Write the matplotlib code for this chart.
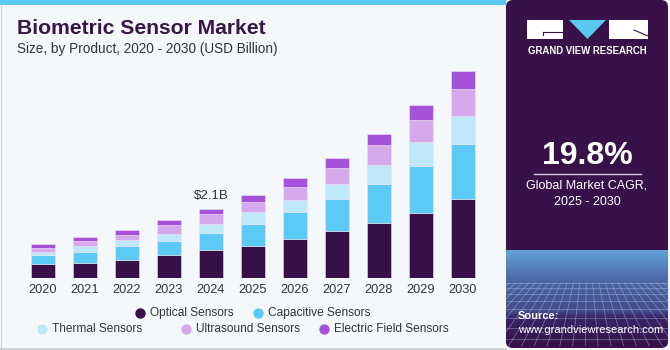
import numpy as np
import matplotlib
matplotlib.use("Agg")
import matplotlib.pyplot as plt
from matplotlib.patches import Rectangle, Polygon, FancyBboxPatch

plt.rcParams['font.family'] = ['Liberation Sans', 'DejaVu Sans']

years = ["2020", "2021", "2022", "2023", "2024", "2025", "2026", "2027", "2028", "2029", "2030"]
optical = [0.42, 0.46, 0.55, 0.69, 0.84, 0.98, 1.18, 1.42, 1.66, 1.99, 2.39]
capacitive = [0.27, 0.33, 0.43, 0.44, 0.54, 0.67, 0.83, 0.97, 1.21, 1.42, 1.69]
thermal = [0.10, 0.19, 0.19, 0.22, 0.27, 0.35, 0.36, 0.47, 0.56, 0.73, 0.84]
ultrasound = [0.13, 0.14, 0.14, 0.26, 0.29, 0.32, 0.40, 0.48, 0.61, 0.67, 0.83]
electric = [0.11, 0.12, 0.15, 0.14, 0.16, 0.20, 0.27, 0.30, 0.34, 0.46, 0.55]
series_names = ["Optical Sensors", "Capacitive Sensors", "Thermal Sensors",
                "Ultrasound Sensors", "Electric Field Sensors"]
annot_year = "2024"
annot_text = "$2.1B"
cagr = "19.8%"

colors = ["#371049", "#5bcaf6", "#bfe9fa", "#d5a9ec", "#a651d9"]
bg = "#f4f8fb"
W, H = 670, 350

fig = plt.figure(figsize=(W / 100, H / 100), dpi=100)
fig.patch.set_facecolor(bg)

ov = fig.add_axes([0, 0, 1, 1], zorder=0)
ov.set_xlim(0, W)
ov.set_ylim(H, 0)
ov.axis("off")
ov.set_facecolor(bg)

# left frame
ov.add_patch(Rectangle((0, 0), 506, 5, color="#5bc8f0", lw=0))
ov.plot([0.5, 0.5], [5, 349], color="#cfd4d8", lw=0.8)
ov.plot([0, 506], [348.5, 348.5], color="#c8cdd2", lw=1.2)

# right panel
panel = FancyBboxPatch((506, 0), 162, 348, boxstyle="round,pad=0,rounding_size=7",
                       fc="#371148", ec="none")
ov.add_patch(panel)
grad = np.linspace(0, 1, 200)[:, None]
cmap = matplotlib.colors.LinearSegmentedColormap.from_list(
    "g", [(0, "#371148"), (0.3, "#3a2466"), (0.36, "#454a8a"), (0.7, "#4d6aa8"), (1, "#62a3d8")])
im = ov.imshow(grad, extent=(506, 668, 250, 346), cmap=cmap, aspect="auto", zorder=1,
               origin="upper")
im.set_clip_path(panel)
# faint grid texture
for k in range(-6, 26):
    xs = 506 + k * 8
    ln, = ov.plot([587 + (xs - 587) * 0.8, 587 + (xs - 587) * 1.6], [283, 346], color="#b5d0f2",
                  lw=0.5, alpha=0.5, zorder=2)
    ln.set_clip_path(Rectangle((506, 0), 162, 346, transform=ov.transData))
for yy in [283, 288, 294, 301, 309, 318, 328, 339]:
    ov.plot([506, 668], [yy, yy], color="#b5d0f2", lw=0.5, alpha=0.5, zorder=2)
ov.set_xlim(0, W)

# logo
ov.add_patch(Rectangle((527, 20), 36, 19, color="white", lw=0, zorder=3))
ov.plot([543, 563], [32, 32], color="#371148", lw=0.8, zorder=4)
ov.plot([543, 543], [32, 35], color="#371148", lw=0.8, zorder=4)
ov.add_patch(Polygon([(569, 20), (606, 20), (587.5, 39)], closed=True, color="#5bc8f0", lw=0, zorder=3))
ov.add_patch(Rectangle((609, 20), 39, 19, color="white", lw=0, zorder=3))
ov.plot([634, 648], [30, 36], color="#371148", lw=0.8, zorder=4)
ov.text(587, 51, "GRAND VIEW RESEARCH", color="white", fontsize=6.9, fontweight="bold",
        ha="center", va="center", zorder=4)

ov.text(587, 156, cagr, color="white", fontsize=23, fontweight="bold", ha="center", va="center", zorder=4)
ov.plot([534, 641], [173.5, 173.5], color="#d8d0e0", lw=1, zorder=4)
ov.text(587, 186, "Global Market CAGR,", color="white", fontsize=9, ha="center", va="center", zorder=4)
ov.text(587, 202, "2025 - 2030", color="white", fontsize=9, ha="center", va="center", zorder=4)
ov.text(518, 316, "Source:", color="white", fontsize=8, fontweight="bold", ha="left", va="center", zorder=4)
ov.text(518, 330, "www.grandviewresearch.com", color="white", fontsize=8, ha="left", va="center", zorder=4)

# titles
ov.text(17, 29, "Biometric Sensor Market", color="#3a1648", fontsize=15.2, fontweight="bold",
        ha="left", va="center")
ov.text(17, 49, "Size, by Product, 2020 - 2030 (USD Billion)", color="#333333", fontsize=9.85,
        ha="left", va="center")

# legend (manual)
leg_pos = [(140, 313), (258, 313), (42, 329), (186, 329), (324, 329)]
for name, col, (lx, ly) in zip(series_names, colors, leg_pos):
    ov.scatter([lx], [ly], s=42, color=col, zorder=3)
    ov.text(lx + 10, ly, name, color="#333333", fontsize=8.6, ha="left", va="center")

# chart axes
base_px, top_px = 278, 60
left_px, right_px = 22, 484
ax = fig.add_axes([left_px / W, 1 - base_px / H, (right_px - left_px) / W, (base_px - top_px) / H],
                  zorder=1)
ax.patch.set_alpha(0)
x = np.arange(len(years))
bottom = np.zeros(len(years))
for vals, col in zip([optical, capacitive, thermal, ultrasound, electric], colors):
    ax.bar(x, vals, width=0.57, bottom=bottom, color=col, edgecolor="#e8e4ee", linewidth=0.4)
    bottom += np.array(vals)
ax.set_xlim(-0.5, len(years) - 0.5)
ax.set_ylim(0, (base_px - top_px) / 32.86)
for s in ax.spines.values():
    s.set_visible(False)
ax.set_yticks([])
ax.set_xticks(x)
ax.set_xticklabels(years, fontsize=9.2, color="#333333")
ax.tick_params(axis="x", length=0, pad=4)
i = years.index(annot_year)
ax.text(i, bottom[i] + 0.2, annot_text, ha="center", va="bottom", fontsize=9.5, color="#333333")

fig.savefig("out.png", dpi=100, facecolor=bg)
